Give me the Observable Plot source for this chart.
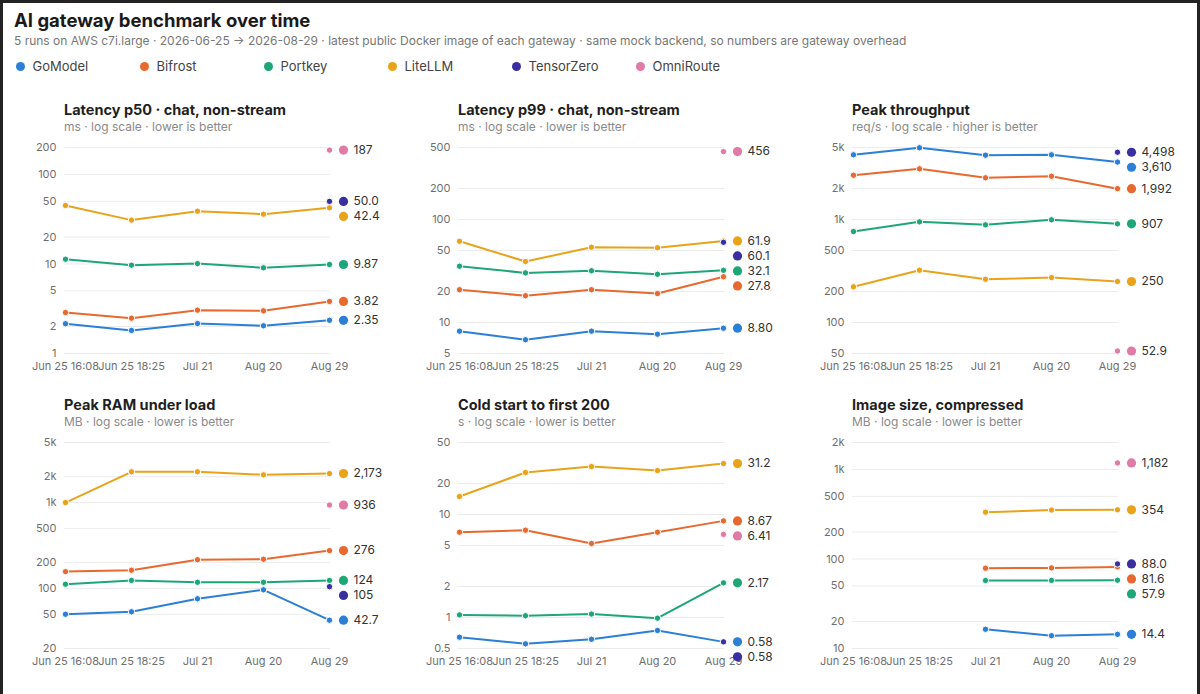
<!DOCTYPE html>
<html>
<head>
<meta charset="utf-8">
<script src="https://cdn.jsdelivr.net/npm/d3@7"></script>
<script src="https://cdn.jsdelivr.net/npm/@observablehq/plot@0.6"></script>
<style>
html, body { margin: 0; padding: 0; background: #fff; }
body { width: 1200px; height: 694px; overflow: hidden; position: relative; font-family: Inter, "Noto Sans", sans-serif; }
#frame { position: absolute; left: 0; top: 0; width: 1200px; height: 694px; box-sizing: border-box; border: 3px solid #232323; border-bottom: 0; pointer-events: none; z-index: 10; }
#title { position: absolute; left: 14px; top: 10px; font-size: 18.5px; line-height: 21px; font-weight: 700; color: #1a1a1a; white-space: nowrap; }
#subtitle { position: absolute; left: 14px; top: 34px; font-size: 12px; line-height: 14px; color: #777; white-space: nowrap; }
#legend { position: absolute; left: 16px; top: 58px; display: flex; }
.item { width: 124px; display: flex; align-items: center; font-size: 13px; line-height: 16px; color: #444; }
.sw { width: 9px; height: 9px; border-radius: 50%; margin-right: 7.5px; flex: none; }
#grid { position: absolute; left: 20px; top: 101px; display: grid; grid-template-columns: 390px 390px 390px; column-gap: 4px; }
.panel { height: 295px; }
.ptitle { padding-left: 44px; font-size: 14.5px; line-height: 18px; font-weight: 700; color: #1f1f1f; white-space: nowrap; }
.psub { padding-left: 44px; margin-top: 0px; font-size: 12px; line-height: 15px; color: #8a8a8a; white-space: nowrap; }
.panel svg { display: block; overflow: visible; }
</style>
</head>
<body>
<div id="frame"></div>
<div id="title"></div>
<div id="subtitle"></div>
<div id="legend"></div>
<div id="grid"></div>
<script>
const chartTitle = "AI gateway benchmark over time";
const chartSubtitle = "5 runs on AWS c7i.large · 2026-06-25 → 2026-08-29 · latest public Docker image of each gateway · same mock backend, so numbers are gateway overhead";

const dates = ["Jun 25 16:08", "Jun 25 18:25", "Jul 21", "Aug 20", "Aug 29"];
const gateways = ["GoModel", "Bifrost", "Portkey", "LiteLLM", "TensorZero", "OmniRoute"];
const gatewayColors = ["#2b7fd6", "#e8692f", "#1ea776", "#e9a31b", "#3a2fa0", "#e07aa6"];

const panelTitles = ["Latency p50 · chat, non-stream", "Latency p99 · chat, non-stream", "Peak throughput", "Peak RAM under load", "Cold start to first 200", "Image size, compressed"];
const panelSubtitles = ["ms · log scale · lower is better", "ms · log scale · lower is better", "req/s · log scale · higher is better", "MB · log scale · lower is better", "s · log scale · lower is better", "MB · log scale · lower is better"];

// values per gateway (same order as gateways), per run date
const latencyP50 = [
  [2.15, 1.81, 2.16, 2.04, 2.35],
  [2.87, 2.48, 3.05, 3.0, 3.82],
  [11.3, 9.7, 10.1, 9.06, 9.87],
  [45, 30.9, 38.9, 36, 42.4],
  [null, null, null, null, 50.0],
  [null, null, null, null, 187]
];
const latencyP99 = [
  [8.24, 6.8, 8.24, 7.7, 8.80],
  [20.8, 18.2, 20.8, 19.1, 27.8],
  [35.2, 30.3, 31.8, 29.4, 32.1],
  [61.5, 39.1, 53.8, 53.1, 61.9],
  [null, null, null, null, 60.1],
  [null, null, null, null, 456]
];
const peakThroughput = [
  [4245, 4966, 4210, 4245, 3610],
  [2690, 3105, 2540, 2630, 1992],
  [764, 949, 887, 993, 907],
  [222, 322, 263, 273, 250],
  [null, null, null, null, 4498],
  [null, null, null, null, 52.9]
];
const peakRam = [
  [50.1, 53.5, 75.8, 96.4, 42.7],
  [157, 163, 216, 219, 276],
  [112, 124, 118, 118, 124],
  [1000, 2280, 2280, 2104, 2173],
  [null, null, null, null, 105],
  [null, null, null, null, 936]
];
const coldStart = [
  [0.644, 0.555, 0.615, 0.748, 0.58],
  [6.73, 7.04, 5.23, 6.73, 8.67],
  [1.06, 1.04, 1.08, 0.985, 2.17],
  [14.95, 25.6, 29.2, 26.7, 31.2],
  [null, null, null, null, 0.58],
  [null, null, null, null, 6.41]
];
const imageSize = [
  [null, null, 16.4, 13.9, 14.4],
  [null, null, 78.9, 79.5, 81.6],
  [null, null, 57.5, 57.6, 57.9],
  [null, null, 333, 352, 354],
  [null, null, null, null, 88.0],
  [null, null, null, null, 1182]
];

const yTicksP50 = [1, 2, 5, 10, 20, 50, 100, 200];
const yTicksP99 = [5, 10, 20, 50, 100, 200, 500];
const yTicksThroughput = [50, 100, 200, 500, 1000, 2000, 5000];
const yTicksRam = [20, 50, 100, 200, 500, 1000, 2000, 5000];
const yTicksCold = [0.5, 1, 2, 5, 10, 20, 50];
const yTicksImage = [10, 20, 50, 100, 200, 500, 1000, 2000];

const panelValues = [latencyP50, latencyP99, peakThroughput, peakRam, coldStart, imageSize];
const panelTicks = [yTicksP50, yTicksP99, yTicksThroughput, yTicksRam, yTicksCold, yTicksImage];

// header
document.getElementById("title").textContent = chartTitle;
document.getElementById("subtitle").textContent = chartSubtitle;
const legend = document.getElementById("legend");
gateways.forEach((g, i) => {
  const it = document.createElement("div");
  it.className = "item";
  const sw = document.createElement("span");
  sw.className = "sw";
  sw.style.background = gatewayColors[i];
  it.appendChild(sw);
  it.appendChild(document.createTextNode(g));
  legend.appendChild(it);
});

const tickFmt = v => v >= 1000 ? (v / 1000) + "k" : String(v);
const valFmt = v => v >= 1000 ? d3.format(",.0f")(v) : v >= 1 ? d3.format(".3r")(v) : d3.format(".2f")(v);

const W = 390, H = 244, ML = 44, MR = 80, MT = 13, MB = 25;

const grid = document.getElementById("grid");
panelValues.forEach((vals, p) => {
  const ticks = panelTicks[p];
  const domain = [ticks[0], ticks[ticks.length - 1]];
  const rows = [];
  vals.forEach((arr, gi) => arr.forEach((v, di) => {
    rows.push({gateway: gateways[gi], date: dates[di], value: v == null ? NaN : v, order: gi});
  }));
  const pts = rows.filter(d => !isNaN(d.value));
  // end labels with downward dodge
  const ys = Plot.scale({y: {type: "log", domain, range: [H - MB, MT]}});
  const ends = vals.map((arr, gi) => {
    let k = arr.length - 1;
    while (k >= 0 && arr[k] == null) k--;
    return {gateway: gateways[gi], date: dates[k], value: arr[k], order: gi, py: ys.apply(arr[k])};
  });
  ends.sort((a, b) => a.py - b.py || a.order - b.order);
  for (let i = 1; i < ends.length; i++) ends[i].py = Math.max(ends[i].py, ends[i - 1].py + 15);
  ends.forEach(e => { e.labelY = ys.invert(e.py); e.label = valFmt(e.value); });
  ends.sort((a, b) => a.order - b.order);

  const chart = Plot.plot({
    width: W, height: H, marginLeft: ML, marginRight: MR, marginTop: MT, marginBottom: MB,
    style: {fontFamily: "Inter, 'Noto Sans', sans-serif", fontSize: "11px", color: "#6f6f6f", background: "transparent", overflow: "visible"},
    x: {type: "point", domain: dates, padding: 0, label: null},
    y: {type: "log", domain, label: null, axis: null},
    color: {domain: gateways, range: gatewayColors},
    marks: [
      Plot.ruleY(ticks, {stroke: "#ececec", strokeWidth: 1}),
      Plot.text(ticks, {y: d => d, text: d => tickFmt(d), frameAnchor: "left", dx: -8, textAnchor: "end", fill: "#6f6f6f", fontSize: 11}),
      Plot.axisX({tickSize: 0, tickPadding: 9, label: null}),
      Plot.line(rows, {x: "date", y: "value", z: "gateway", stroke: "gateway", strokeWidth: 2}),
      Plot.dot(pts, {x: "date", y: "value", fill: "gateway", stroke: "white", strokeWidth: 1, r: 3.2}),
      Plot.dot(ends, {x: "date", y: "labelY", fill: "gateway", r: 4.6, dx: 14}),
      Plot.text(ends, {x: "date", y: "labelY", text: "label", dx: 24, textAnchor: "start", fill: "#333", fontSize: 12})
    ]
  });
  const panel = document.createElement("div");
  panel.className = "panel";
  const t = document.createElement("div"); t.className = "ptitle"; t.textContent = panelTitles[p];
  const s = document.createElement("div"); s.className = "psub"; s.textContent = panelSubtitles[p];
  panel.appendChild(t); panel.appendChild(s); panel.appendChild(chart);
  grid.appendChild(panel);
});
</script>
</body>
</html>
